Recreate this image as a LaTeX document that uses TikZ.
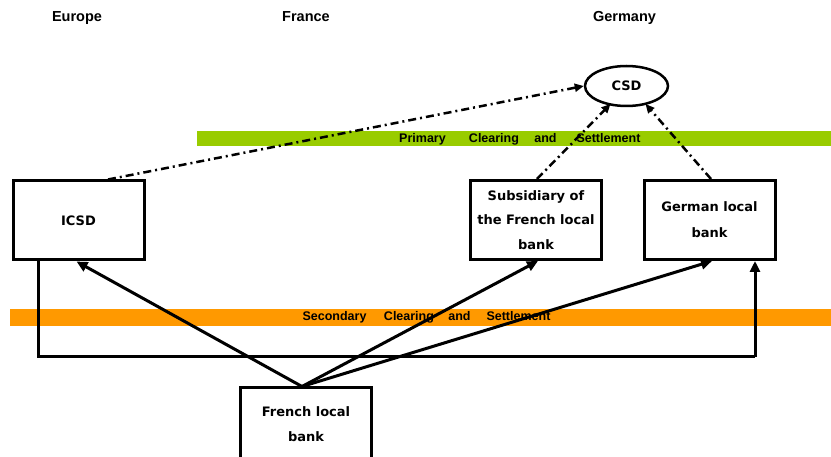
\documentclass[tikz,border=0pt]{standalone}
\usepackage{fontspec}
\setmainfont{Liberation Sans}
\newfontfamily\boxfont{DejaVu Sans}
\usetikzlibrary{arrows.meta,calc,shapes.geometric}
\definecolor{primgreen}{HTML}{99CC00}
\definecolor{secorange}{HTML}{FF9900}
\begin{document}
\begin{tikzpicture}[x=1pt,y=-1pt,
  hdr/.style={anchor=base,inner sep=0pt,font=\bfseries\fontsize{14.5}{16}\selectfont},
  bandbox/.style={draw=none,inner sep=0pt,outer sep=0pt},
  bandtext/.style={anchor=base,inner sep=0pt,font=\bfseries\fontsize{12.5}{14}\selectfont},
  bx/.style={draw,line width=3pt,minimum width=131pt,minimum height=79pt,align=center,inner sep=0pt,
    font=\boxfont\bfseries\fontsize{13}{24.5}\selectfont},
  arr/.style={line width=3pt,-{Triangle[length=11pt,width=10pt]}},
  dd/.style={line width=2.5pt,dash pattern=on 8pt off 4pt on 2pt off 4pt,-{Triangle[length=9pt,width=8pt]}},
  plain/.style={line width=3pt}]
\useasboundingbox (0,0) rectangle (831,457);
\clip (0,0) rectangle (831,457);

% headers
\node[hdr] (europe) at (77,22) {Europe};
\node[hdr] (france) at (306,22) {France};
\node[hdr] (germany) at (624.5,22) {Germany};

% bands
\node[bandbox,fill=primgreen,minimum width=634pt,minimum height=15pt] (primaryband) at (514,138.5) {};
\node[bandtext] (primarytext) at (520,143)
  {\makebox[47pt]{Primary}\hspace{23pt}\makebox[50pt]{Clearing}\hspace{15pt}\makebox[23pt]{and}\hspace{19pt}\makebox[65pt]{Settlement}};
\node[bandbox,fill=secorange,minimum width=821pt,minimum height=17pt] (secondaryband) at (420.5,317.5) {};
\node[bandtext] (secondarytext) at (426.5,320.7)
  {\makebox[65pt]{Secondary}\hspace{16pt}\makebox[52pt]{Clearing}\hspace{13pt}\makebox[23pt]{and}\hspace{15pt}\makebox[65pt]{Settlement}};

% CSD
\node[ellipse,draw,line width=2.5pt,minimum width=83pt,minimum height=40pt,inner sep=0pt,
  font=\boxfont\bfseries\fontsize{13}{15}\selectfont] (csd) at (626.5,86) {CSD};

% boxes
\node[bx] (icsd) at (78.5,220.5) {ICSD};
\node[bx] (subsidiary) at (536,220) {Subsidiary of\\the French local\\bank};
\node[bx] (german) at (709.5,220) {German local\\[1.5pt]bank};
\node[bx,minimum height=72pt] (french) at (306,424) {French local\\bank};

% solid arrows from French local bank
\draw[arr] ([xshift=-4pt]french.north) -- ([xshift=-2pt]icsd.south);
\draw[arr] ([xshift=-4pt]french.north) -- ([xshift=2pt]subsidiary.south);
\draw[arr] ([xshift=-4pt]french.north) -- ([xshift=2.5pt]german.south);

% ICSD to German local bank
\coordinate (lowleft) at (38,357);
\coordinate (lowright) at (755,357);
\draw[plain] ([xshift=-40.5pt]icsd.south) -- (lowleft) -- (lowright);
\draw[arr] (lowright) -- ([xshift=45.5pt]german.south);

% dash-dot arrows to CSD
\draw[dd] ([xshift=29.5pt]icsd.north) -- (csd.west);
\draw[dd] ([xshift=1pt]subsidiary.north) -- ($(csd.center)+(-16,18)$);
\draw[dd] ([xshift=1.5pt]german.north) -- ($(csd.center)+(19,18)$);
\end{tikzpicture}
\end{document}
